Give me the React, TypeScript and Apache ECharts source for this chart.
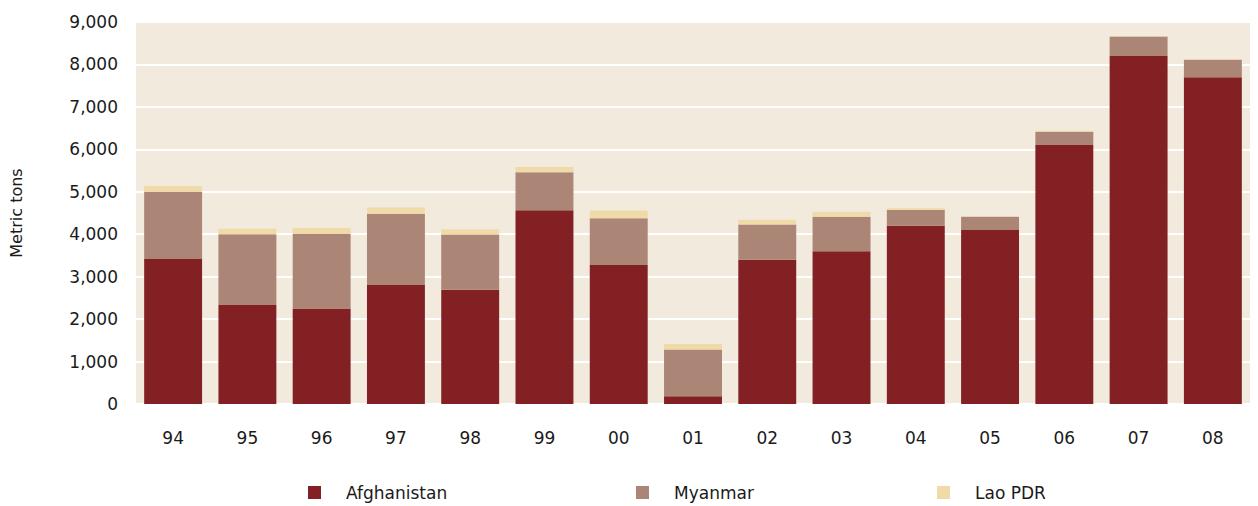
import React, { useEffect, useRef } from "react";
import * as echarts from "echarts";

const years = ["94", "95", "96", "97", "98", "99", "00", "01", "02", "03", "04", "05", "06", "07", "08"];
const afghanistan = [3416, 2335, 2248, 2804, 2693, 4565, 3276, 185, 3400, 3600, 4200, 4100, 6100, 8200, 7700];
const myanmar = [1583, 1664, 1760, 1676, 1303, 895, 1100, 1097, 828, 810, 370, 312, 315, 460, 410];
const laoPDR = [140, 128, 140, 147, 124, 124, 185, 134, 112, 120, 43, 14, 20, 9, 10];
const yTicks = [0, 1000, 2000, 3000, 4000, 5000, 6000, 7000, 8000, 9000];

const FONT = "DejaVu Sans";
const TXT = "#1a1a1a";
const colors = { afg: "#822024", mya: "#AB8576", lao: "#EFDAA8" };

export default function App() {
  const ref = useRef<HTMLDivElement>(null);
  useEffect(() => {
    if (!ref.current) return;
    const chart = echarts.init(ref.current, null, { renderer: "svg" });
    const legendBase = (name: string, left: number) => ({
      show: true,
      left,
      top: 484,
      padding: 0,
      itemWidth: 13,
      itemHeight: 13,
      icon: "rect",
      data: [name],
      textStyle: { fontFamily: FONT, fontSize: 17, color: TXT, padding: [0, 0, 0, 20] },
    });
    chart.setOption({
      animation: false,
      backgroundColor: "#ffffff",
      grid: {
        left: 136,
        right: 8,
        top: 22,
        bottom: 102,
        show: true,
        backgroundColor: "#F2EADC",
        borderWidth: 0,
      },
      legend: [
        legendBase("Afghanistan", 308),
        legendBase("Myanmar", 636),
        legendBase("Lao PDR", 937),
      ],
      xAxis: {
        type: "category",
        data: years,
        axisLine: { show: false },
        axisTick: { show: false },
        axisLabel: { fontFamily: FONT, fontSize: 17, color: TXT, margin: 25 },
      },
      yAxis: {
        type: "value",
        min: yTicks[0],
        max: yTicks[yTicks.length - 1],
        interval: 1000,
        name: "Metric tons",
        nameLocation: "middle",
        nameRotate: 90,
        nameGap: 112,
        nameTextStyle: { fontFamily: FONT, fontSize: 16, color: TXT },
        axisLine: { show: false },
        axisTick: { show: false },
        axisLabel: {
          fontFamily: FONT,
          fontSize: 17,
          color: TXT,
          margin: 18,
          formatter: (v: number) => v.toLocaleString("en-US"),
        },
        splitLine: { show: true, lineStyle: { color: "#ffffff", width: 2 } },
      },
      series: [
        { name: "Afghanistan", type: "bar", stack: "t", data: afghanistan, barCategoryGap: "22%", itemStyle: { color: colors.afg } },
        { name: "Myanmar", type: "bar", stack: "t", data: myanmar, itemStyle: { color: colors.mya } },
        { name: "Lao PDR", type: "bar", stack: "t", data: laoPDR, itemStyle: { color: colors.lao } },
      ],
    });
    return () => chart.dispose();
  }, []);
  return <div ref={ref} style={{ width: 1258, height: 506, position: "absolute", left: 0, top: 0 }} />;
}
